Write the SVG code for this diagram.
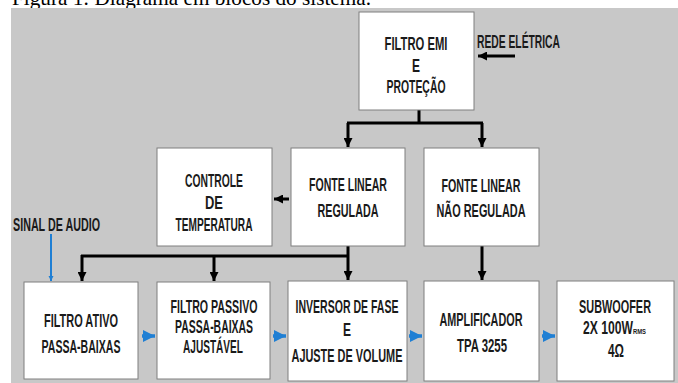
<svg xmlns="http://www.w3.org/2000/svg" width="678" height="383" viewBox="0 0 678 383">
<defs>
<style>
.box{fill:#fff;stroke:#7f7f7f;stroke-width:1}
.t{font-family:"Liberation Sans",Arial,sans-serif;font-weight:bold;font-size:17.5px;text-anchor:middle;fill:#1a1a1a}
.ts{font-family:"Liberation Sans",Arial,sans-serif;font-weight:bold;font-size:17.5px;fill:#1a1a1a}
.k{stroke:#000;stroke-width:3;fill:none}
.b{stroke:#1f7fd4;stroke-width:2;fill:none}
.b3{stroke:#1f7fd4;stroke-width:3.5;fill:none}
</style>
<marker id="ak" viewBox="0 0 10 10" refX="10" refY="5" markerWidth="3" markerHeight="3" orient="auto" markerUnits="strokeWidth"><path d="M0,0 L10,5 L0,10 z" fill="#000"/></marker>
<marker id="ab" viewBox="0 0 10 10" refX="10" refY="5" markerWidth="2.6" markerHeight="2.6" orient="auto" markerUnits="strokeWidth"><path d="M0,0 L10,5 L0,10 z" fill="#1f7fd4"/></marker>
<marker id="ab2" viewBox="0 0 10 10" refX="10" refY="5" markerWidth="3.5" markerHeight="3.5" orient="auto" markerUnits="strokeWidth"><path d="M0,0 L10,5 L0,10 z" fill="#1f7fd4"/></marker>
</defs>
<rect x="0" y="0" width="678" height="383" fill="#fff"/>
<text x="12" y="5" font-family="'Liberation Serif','Times New Roman',serif" font-size="21" textLength="359" lengthAdjust="spacingAndGlyphs" fill="#000">Figura 1: Diagrama em blocos do sistema.</text>
<rect x="11" y="8" width="667" height="375" fill="#c8c8c8"/>

<g id="connectors">
<path class="k" d="M419,110 V123 M347,123 H483" />
<path class="k" d="M348,123 V147" marker-end="url(#ak)"/>
<path class="k" d="M482,123 V147" marker-end="url(#ak)"/>
<path class="k" d="M515,56 H478" marker-end="url(#ak)"/>
<path class="k" d="M289,199 H274" marker-end="url(#ak)"/>
<path class="k" d="M348,246 V280" marker-end="url(#ak)"/>
<path class="k" d="M81,256 H348"/>
<path class="k" d="M82,255 V281" marker-end="url(#ak)"/>
<path class="k" d="M214,256 V281" marker-end="url(#ak)"/>
<path class="k" d="M482,246 V280" marker-end="url(#ak)"/>
<path class="b" d="M51,234 V281" marker-end="url(#ab)"/>
<path class="b3" d="M142,336 H155" marker-end="url(#ab2)"/>
<path class="b3" d="M273,336 H286" marker-end="url(#ab2)"/>
<path class="b3" d="M409,336 H422" marker-end="url(#ab2)"/>
<path class="b3" d="M542,336 H555" marker-end="url(#ab2)"/>
</g>

<text class="ts" x="477" y="48" textLength="83" lengthAdjust="spacingAndGlyphs">REDE ELÉTRICA</text>
<text class="ts" x="13" y="231" textLength="87" lengthAdjust="spacingAndGlyphs">SINAL DE AUDIO</text>

<g id="filtro-emi">
<rect class="box" x="359" y="12" width="115" height="98"/>
<text class="t" x="416" y="50" textLength="63" lengthAdjust="spacingAndGlyphs">FILTRO EMI</text>
<text class="t" x="416" y="72" textLength="8" lengthAdjust="spacingAndGlyphs">E</text>
<text class="t" x="416" y="93" textLength="59" lengthAdjust="spacingAndGlyphs">PROTEÇÃO</text>
</g>

<g id="controle-temperatura">
<rect class="box" x="157" y="148" width="115" height="98"/>
<text class="t" x="214" y="187" textLength="58" lengthAdjust="spacingAndGlyphs">CONTROLE</text>
<text class="t" x="214" y="209" textLength="18" lengthAdjust="spacingAndGlyphs">DE</text>
<text class="t" x="214" y="231" textLength="77" lengthAdjust="spacingAndGlyphs">TEMPERATURA</text>
</g>

<g id="fonte-regulada">
<rect class="box" x="291" y="148" width="114" height="98"/>
<text class="t" x="348" y="191" textLength="78" lengthAdjust="spacingAndGlyphs">FONTE LINEAR</text>
<text class="t" x="348" y="217" textLength="61" lengthAdjust="spacingAndGlyphs">REGULADA</text>
</g>

<g id="fonte-nao-regulada">
<rect class="box" x="424" y="148" width="115" height="98"/>
<text class="t" x="481" y="192" textLength="79" lengthAdjust="spacingAndGlyphs">FONTE LINEAR</text>
<text class="t" x="481" y="217" textLength="89" lengthAdjust="spacingAndGlyphs">NÃO REGULADA</text>
</g>

<g id="filtro-ativo">
<rect class="box" x="24" y="282" width="114" height="97"/>
<text class="t" x="81" y="327" textLength="74" lengthAdjust="spacingAndGlyphs">FILTRO ATIVO</text>
<text class="t" x="81" y="353" textLength="79" lengthAdjust="spacingAndGlyphs">PASSA-BAIXAS</text>
</g>

<g id="filtro-passivo">
<rect class="box" x="157" y="282" width="113" height="97"/>
<text class="t" x="214" y="313" textLength="87" lengthAdjust="spacingAndGlyphs">FILTRO PASSIVO</text>
<text class="t" x="214" y="333" textLength="78" lengthAdjust="spacingAndGlyphs">PASSA-BAIXAS</text>
<text class="t" x="213" y="353" textLength="60" lengthAdjust="spacingAndGlyphs">AJUSTÁVEL</text>
</g>

<g id="inversor">
<rect class="box" x="288" y="281" width="119" height="100"/>
<text class="t" x="347" y="313" textLength="103" lengthAdjust="spacingAndGlyphs">INVERSOR DE FASE</text>
<text class="t" x="347" y="336" textLength="8" lengthAdjust="spacingAndGlyphs">E</text>
<text class="t" x="347" y="362" textLength="111" lengthAdjust="spacingAndGlyphs">AJUSTE DE VOLUME</text>
</g>

<g id="amplificador">
<rect class="box" x="424" y="281" width="115" height="100"/>
<text class="t" x="481" y="326" textLength="83" lengthAdjust="spacingAndGlyphs">AMPLIFICADOR</text>
<text class="t" x="482" y="352" textLength="50" lengthAdjust="spacingAndGlyphs">TPA 3255</text>
</g>

<g id="subwoofer">
<rect class="box" x="557" y="281" width="117" height="100"/>
<text class="t" x="615" y="313" textLength="72" lengthAdjust="spacingAndGlyphs">SUBWOOFER</text>
<text class="ts" x="583" y="334"><tspan textLength="50" lengthAdjust="spacingAndGlyphs">2X 100W</tspan><tspan font-size="8" textLength="13" lengthAdjust="spacingAndGlyphs">RMS</tspan></text>
<text class="t" x="616" y="357" textLength="16" lengthAdjust="spacingAndGlyphs">4Ω</text>
</g>
</svg>
